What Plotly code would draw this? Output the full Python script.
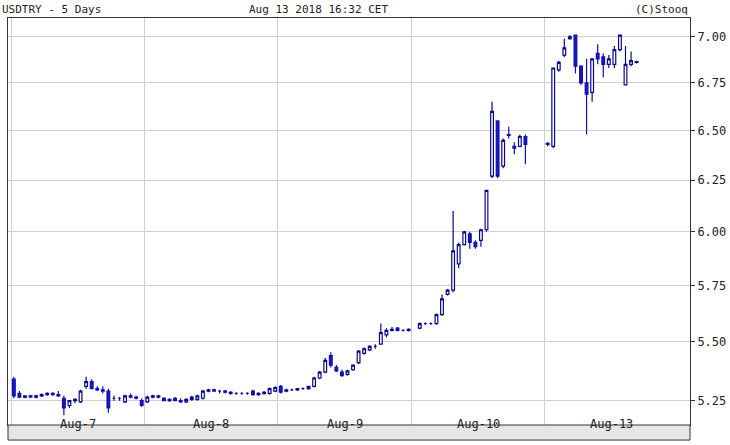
import plotly.graph_objects as go

# hourly candles, USDTRY, one list per day: (open, high, low, close)
aug7 = [(5.34,5.35,5.26,5.27),(5.28,5.29,5.26,5.265),(5.265,5.27,5.26,5.27),(5.27,5.275,5.265,5.265),
        (5.265,5.275,5.26,5.27),(5.27,5.28,5.265,5.275),(5.275,5.285,5.27,5.28),(5.28,5.285,5.27,5.275),
        (5.275,5.29,5.265,5.27),(5.26,5.27,5.19,5.22),(5.23,5.25,5.22,5.25),(5.25,5.26,5.24,5.255),
        (5.245,5.295,5.24,5.29),(5.31,5.35,5.30,5.33),(5.33,5.34,5.30,5.30),(5.30,5.31,5.29,5.295),
        (5.295,5.31,5.28,5.29),(5.29,5.30,5.20,5.22),(5.26,5.27,5.25,5.26),(5.26,5.265,5.25,5.26),
        (5.245,5.275,5.24,5.27),(5.27,5.28,5.26,5.265),(5.265,5.27,5.255,5.26),(5.25,5.26,5.225,5.23)]
aug8 = [(5.245,5.27,5.24,5.265),(5.265,5.275,5.26,5.27),(5.265,5.275,5.26,5.27),(5.26,5.265,5.25,5.25),
        (5.25,5.26,5.245,5.255),(5.26,5.265,5.25,5.25),(5.25,5.26,5.24,5.245),(5.245,5.26,5.24,5.255),
        (5.255,5.27,5.25,5.265),(5.255,5.275,5.25,5.27),(5.26,5.295,5.255,5.29),(5.29,5.30,5.285,5.295),
        (5.295,5.30,5.29,5.29),(5.29,5.295,5.28,5.29),(5.29,5.295,5.28,5.285),(5.285,5.29,5.275,5.28),
        (5.28,5.285,5.275,5.28),(5.28,5.285,5.275,5.28),(5.28,5.285,5.275,5.28),(5.29,5.295,5.27,5.275),
        (5.275,5.285,5.27,5.28),(5.28,5.29,5.275,5.285),(5.28,5.305,5.275,5.30),(5.29,5.31,5.285,5.305)]
aug9 = [(5.31,5.315,5.28,5.285),(5.29,5.30,5.285,5.295),(5.295,5.30,5.29,5.295),(5.295,5.30,5.29,5.30),
        (5.30,5.305,5.295,5.30),(5.30,5.31,5.295,5.31),(5.31,5.35,5.305,5.345),(5.345,5.375,5.34,5.37),
        (5.37,5.43,5.365,5.42),(5.44,5.455,5.39,5.40),(5.39,5.40,5.37,5.375),(5.37,5.38,5.35,5.355),
        (5.36,5.38,5.355,5.375),(5.38,5.40,5.375,5.40),(5.41,5.465,5.405,5.46),(5.45,5.475,5.445,5.47),
        (5.465,5.485,5.46,5.48),(5.48,5.49,5.47,5.48),(5.49,5.58,5.49,5.54),(5.53,5.56,5.52,5.55),
        (5.55,5.565,5.545,5.555),(5.56,5.565,5.545,5.55),(5.55,5.555,5.545,5.55),(5.55,5.56,5.545,5.555)]
aug10 = [(5.56,5.585,5.555,5.58),(5.58,5.585,5.575,5.58),(5.58,5.585,5.575,5.58),(5.58,5.625,5.575,5.62),
         (5.62,5.71,5.615,5.69),(5.71,5.735,5.705,5.73),(5.73,6.10,5.72,5.91),(5.85,5.95,5.83,5.94),
         (5.94,6.005,5.935,6.0),(5.99,6.00,5.92,5.95),(5.95,5.96,5.92,5.93),(5.96,6.015,5.93,6.01),
         (6.01,6.20,6.0,6.20),(6.27,6.65,6.26,6.60),(6.55,6.55,6.26,6.27),(6.32,6.46,6.31,6.45),
         (6.48,6.52,6.46,6.475),(6.42,6.44,6.38,6.41),(6.42,6.48,6.415,6.47),(6.47,6.48,6.33,6.43)]
aug13 = [(6.43,6.44,6.42,6.435),(6.42,6.83,6.41,6.83),(6.82,6.87,6.81,6.86),(6.90,6.99,6.89,6.94),
         (6.99,7.01,6.985,7.0),(7.01,7.01,6.80,6.84),(6.84,6.845,6.74,6.75),(6.75,6.88,6.48,6.69),
         (6.70,6.88,6.65,6.88),(6.91,6.96,6.85,6.88),(6.89,6.91,6.78,6.85),(6.85,6.90,6.83,6.88),
         (6.85,6.95,6.83,6.93),(6.93,7.01,6.92,7.01),(6.74,6.95,6.74,6.85),(6.85,6.92,6.84,6.87),
         (6.86,6.87,6.855,6.865)]

days = ['Aug-7', 'Aug-8', 'Aug-9', 'Aug-10', 'Aug-13']
first_hour = [0, 0, 0, 1, 0]  # first traded hour in each day
y_ticks = [5.25, 5.50, 5.75, 6.00, 6.25, 6.50, 6.75, 7.00]

xs, o, h, l, c = [], [], [], [], []
for d, day in enumerate([aug7, aug8, aug9, aug10, aug13]):
    for k, (op, hi, lo, cl) in enumerate(day):
        xs.append(d * 24 + first_hour[d] + k + 0.5)
        o.append(op); h.append(hi); l.append(lo); c.append(cl)

fig = go.Figure(go.Candlestick(
    x=xs, open=o, high=h, low=l, close=c, whiskerwidth=0,
    increasing=dict(line=dict(color='#0a0a8c', width=1.2), fillcolor='white'),
    decreasing=dict(line=dict(color='#1010b0', width=1.2), fillcolor='#1818c0'),
    showlegend=False))

font = dict(family='DejaVu Sans Mono', size=11, color='#222')
fig.update_layout(
    width=730, height=445, margin=dict(l=8, r=40, t=18, b=20, autoexpand=False),
    paper_bgcolor='white', plot_bgcolor='white', font=font,
    xaxis=dict(range=[-0.55, 122.1], tickmode='array', tickvals=[0, 24, 48, 72, 96],
               showticklabels=False, showgrid=True, gridcolor='#cfcfcf', zeroline=False,
               rangeslider=dict(visible=False), showline=True, linecolor='#333', mirror=True, ticks=''),
    yaxis=dict(type='log', range=[0.7118, 0.8516], side='right', tickmode='array', tickvals=y_ticks,
               ticktext=['%.2f' % v for v in y_ticks], showgrid=True, gridcolor='#cfcfcf',
               showline=True, linecolor='#333', mirror=True, ticks='outside', ticklen=4,
               tickcolor='#333', tickfont=dict(family='DejaVu Sans Mono', size=12)),
)

# grey date band under the plot
fig.add_shape(type='rect', xref='paper', yref='paper', x0=0, x1=1, y0=-0.037, y1=0,
              fillcolor='#e6e6e6', line=dict(color='#333', width=1))
for d, name in enumerate(days):
    fig.add_annotation(x=d * 24 + 12, y=-0.0185, xref='x', yref='paper', text=name,
                       showarrow=False, font=dict(family='DejaVu Sans Mono', size=12, color='#222'))

fig.add_annotation(x=-0.012, y=1.0, xref='paper', yref='paper', xanchor='left', yanchor='bottom',
                   text='USDTRY - 5 Days', showarrow=False, font=font)
fig.add_annotation(x=0.455, y=1.0, xref='paper', yref='paper', xanchor='center', yanchor='bottom',
                   text='Aug 13 2018 16:32 CET', showarrow=False, font=font)
fig.add_annotation(x=1.0, y=1.0, xref='paper', yref='paper', xanchor='right', yanchor='bottom',
                   text='(C)Stooq', showarrow=False, font=font)

# drop the browser's default body margin so the figure fills the window
fig.write_html('out.html', config={'displayModeBar': False},
               post_script="document.body.style.margin='0';")
